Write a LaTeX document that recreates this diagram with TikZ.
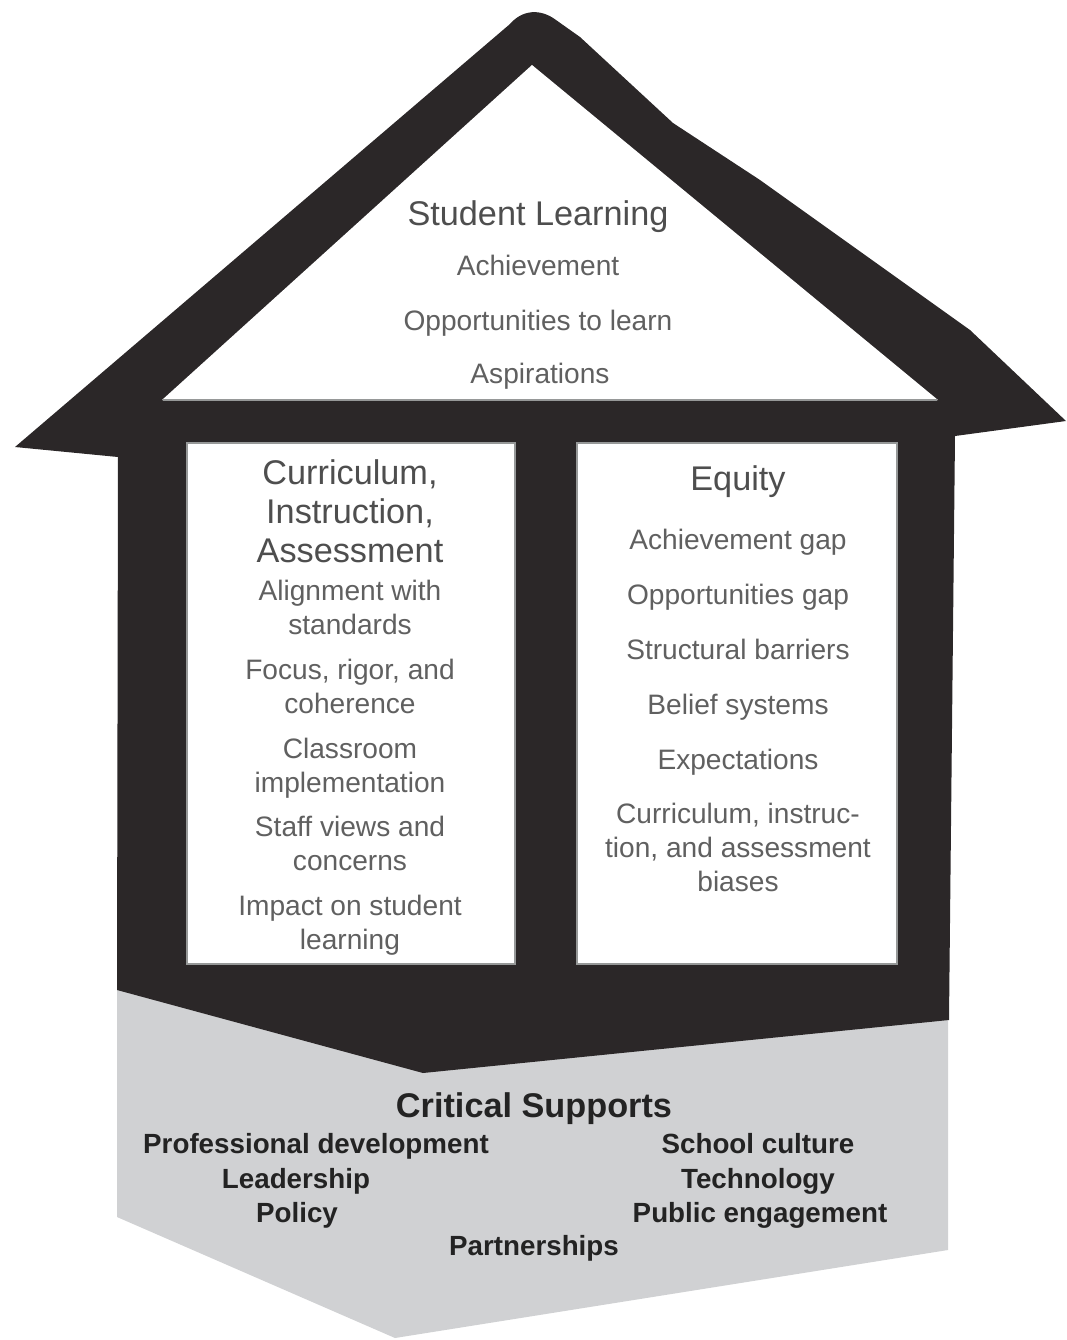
\documentclass[tikz,border=0pt]{standalone}
\usepackage{fontspec}
\setmainfont{Liberation Sans}
\usepackage{tikz}
\usetikzlibrary{positioning}
\definecolor{roofblack}{RGB}{43,39,40}
\definecolor{basegray}{RGB}{208,209,211}
\definecolor{rimgray}{RGB}{150,152,152}
\definecolor{headgray}{RGB}{78,78,78}
\definecolor{itemgray}{RGB}{96,96,96}
\definecolor{supportink}{RGB}{35,35,35}
\tikzset{
    heading/.style = {
        anchor=base,
        align=center,
        inner sep=0pt,
        text=headgray,
        font=\fontsize{19.5pt}{22.2pt}\selectfont
    },
    item/.style = {
        anchor=base,
        align=center,
        inner sep=0pt,
        text=itemgray,
        font=\fontsize{16pt}{18.8pt}\selectfont
    },
    supporttitle/.style = {
        anchor=base,
        inner sep=0pt,
        text=supportink,
        font=\fontsize{19.5pt}{22pt}\selectfont\bfseries
    },
    support/.style = {
        anchor=base,
        inner sep=0pt,
        text=supportink,
        font=\fontsize{15.8pt}{18pt}\selectfont\bfseries
    },
    panel/.style = {
        fill=white,
        draw=rimgray,
        line width=1pt
    },
}

\begin{document}
\begin{tikzpicture}[x=0.02cm, y=-0.02cm]
            \useasboundingbox (0,0) rectangle (1067,1340);

            % foundation and house body
            \fill[basegray] (117,985) -- (948,1000) -- (948,1250) -- (395,1338) -- (117,1217) -- cycle;
            \fill[roofblack] (15,447) -- (510,24) .. controls (522,10) and (540,8) .. (556,20) -- (580,37) -- (673,123) -- (760,180) -- (970,330) -- (1066,421) -- (955,436) -- (949,1020) -- (423,1073) -- (117,990) -- (118,457) -- cycle;
            \fill[white] (162,400) -- (532,65) -- (938,400) -- cycle;
            \draw[rimgray, line width=1.6pt] (163,400) -- (937,400);
            \path[panel] (187,443) rectangle (515,964);
            \path[panel] (577,443) rectangle (897,964);

            \node[heading] (learning) at (538,225) {Student Learning};
            \node[item] (achieve) at (538,275) {Achievement};
            \node[item] (optolearn) at (538,330) {Opportunities to learn};
            \node[item] (aspire) at (540,383) {Aspirations};

            \node[heading] (cia) at (350,562) {Curriculum,\\Instruction,\\Assessment};
            \node[item] (align) at (350,634) {Alignment with\\standards};
            \node[item] (focus) at (350,713) {Focus, rigor, and\\coherence};
            \node[item] (classroom) at (350,792) {Classroom\\implementation};
            \node[item] (staff) at (350,870) {Staff views and\\concerns};
            \node[item] (impact) at (350,949) {Impact on student\\learning};

            \node[heading] (equity) at (738,490) {Equity};
            \node[item] (achgap) at (738,549) {Achievement gap};
            \node[item] (oppgap) at (738,604) {Opportunities gap};
            \node[item] (barriers) at (738,659) {Structural barriers};
            \node[item] (beliefs) at (738,714) {Belief systems};
            \node[item] (expect) at (738,769) {Expectations};
            \node[item, font=\fontsize{16pt}{19.3pt}\selectfont] (biases) at (738,891) {Curriculum, instruc-\\tion, and assessment\\biases};

            \node[supporttitle] (supports) at (534,1117) {Critical Supports};
            \node[support] (profdev) at (316,1153) {Professional development};
            \node[support] (leader) at (296,1188) {Leadership};
            \node[support] (policy) at (297,1222) {Policy};
            \node[support] (culture) at (758,1153) {School culture};
            \node[support] (tech) at (758,1188) {Technology};
            \node[support] (public) at (760,1222) {Public engagement};
            \node[support] (partners) at (534,1255) {Partnerships};

        \end{tikzpicture}
\end{document}
